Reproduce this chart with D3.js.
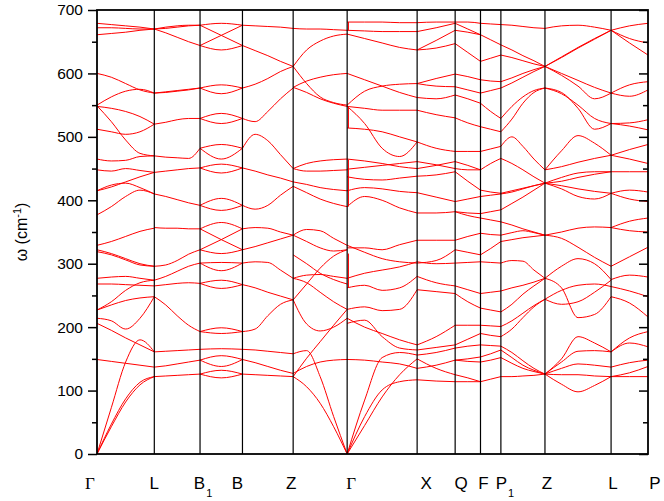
<!DOCTYPE html>
<html><head><meta charset="utf-8">
<script src="https://cdn.jsdelivr.net/npm/d3@7"></script>
<style>body{margin:0;background:#fff}</style>
</head><body><svg id="c" width="664" height="501"></svg>
<script>
// high-symmetry points along the path (normalised path length)
const kPos   = [0, 0.104, 0.187, 0.264, 0.356, 0.454, 0.581, 0.650, 0.696, 0.733, 0.813, 0.933, 1.0];
const kNames = ["Γ","L","B","B","Z","Γ","X","Q","F","P","Z","L","P"];
const kSubs  = ["","","1","","","","","","","1","","",""];
const yTicks = [0,100,200,300,400,500,600,700];
const yMinor = [50,150,250,350,450,550,650];

// phonon branches per segment: frequencies (cm^-1) at equally spaced points
const seg_G_L = [
 [679,677,675,673,670],[672,672,671,670,670],[661,663,665,668,670],
 [600,594,584,574,569],[550,563,572,575,569],[548,545,540,532,520],
 [512,508,504,508,520],[549,524,495,474,470],[465,462,463,469,470],
 [448,446,450,447,444],[415,421,429,437,444],[415,424,427,420,410],
 [377,390,406,416,410],[329,335,343,351,356],[322,316,308,300,296],
 [319,314,306,298,296],[277,279,280,277,274],[268,268,267,266,265],
 [227,235,242,246,248],[227,240,258,270,274],[214,210,197,214,248],
 [206,195,183,172,161],[149,146,143,140,137],[0,43,82,109,122],
 [0,47,87,113,122],[0,73,145,180,161]
];
const seg_L_B1 = [
 [670,673,675,676,676],[670,671,673,675,676],[670,664,657,650,644],
 [569,571,573,575,577],[569,570,572,574,577],[520,523,527,529,529],
 [470,468,467,466,482],[444,446,448,450,451],[410,406,401,396,392],
 [357,356,356,355,355],[296,298,305,315,322],[274,280,288,296,301],
 [265,267,269,270,269],[248,235,218,203,193],[161,162,163,164,165],
 [137,139,142,145,148],[122,123,124,125,126]
];
const seg_B1_B = [
 [676,679,676],[676,660,644],[644,660,676],[644,637,644],
 [577,582,577],[577,568,577],[529,537,529],[529,521,529],
 [482,488,482],[482,465,482],[451,457,451],[451,443,451],
 [392,403,392],[392,384,392],[355,365,355],[322,338,355],
 [355,338,322],[322,316,322],[301,302,301],[301,289,301],
 [269,274,267],[269,261,267],[193,199,193],[193,190,193],
 [165,166,165],[148,155,149],[148,138,149],[126,132,126],[126,120,126]
];
const seg_B_Z = [
 [676,675,674,673,671],[644,636,628,619,611],[577,583,592,603,611],
 [529,524,540,560,577],[482,504,494,472,450],[451,446,440,435,429],
 [392,386,392,408,422],[355,357,356,350,345],[322,327,333,339,345],
 [301,303,302,290,277],[267,262,255,249,243],[193,197,218,236,243],
 [165,164,162,160,158],[149,144,138,132,127],[126,125,124,123,122]
];
const seg_Z_G = [
 [671,670,670,669,668],[611,637,651,659,662],[611,584,563,554,550],
 [578,588,594,598,600],[578,570,560,553,548],[450,458,462,464,465],
 [450,446,446,447,448],[429,425,420,417,415],[422,412,402,395,390],
 [345,354,352,340,329],[345,335,325,320,322],[314,300,285,275,268],
 [277,282,283,280,277],[277,270,255,240,228],[243,205,194,200,214],
 [243,268,293,312,322],[158,163,122,59,0],[122,106,80,43,0],
 [122,151,177,203,228],[127,138,145,148,149]
];
const seg_G_X = [
 [681,681,681,680,680],[668,667,666,666,666],[662,655,648,641,637],
 [600,590,580,570,562],[550,572,580,583,584],[548,545,542,542,542],
 [514,512,508,500,492],[548,521,482,469,492],[465,462,458,453,450],
 [449,452,455,458,461],[437,433,432,435,438],[415,420,418,414,412],
 [390,406,400,388,380],[329,318,308,303,301],[325,325,322,330,337],
 [277,285,290,295,303],[262,266,258,262,280],[228,232,226,228,259],
 [214,200,190,180,172],[206,211,185,167,164],[149,148,145,142,135],
 [0,85,152,160,156],[0,59,101,114,117],[0,45,90,125,150]
];
const seg_X_Q = [
 [680,681,681],[666,672,679],[637,652,668],[637,640,647],
 [584,592,599],[584,580,579],[562,560,566],[542,535,530],
 [492,482,477],[450,455,461],[461,456,450],[438,440,445],
 [412,405,398],[380,380,382],[337,337,337],[301,305,322],
 [303,300,301],[280,270,265],[259,256,253],[172,185,203],
 [164,168,172],[156,160,167],[135,140,148],[117,115,114],[150,135,125]
];
const seg_Q_F = [
 [681,681,679],[679,670,661],[668,665,661],[647,633,619],
 [599,595,590],[579,574,569],[566,560,553],[530,522,516],
 [477,477,477],[461,455,448],[450,448,448],[445,430,416],
 [398,402,406],[382,380,379],[382,376,372],[337,343,348],
 [322,318,314],[301,302,303],[265,259,253],[253,240,230],
 [203,203,203],[172,181,190],[167,170,172],[148,150,153],
 [148,146,145],[114,114,114],[125,120,114]
];
const seg_F_P1 = [
 [679,678,677],[661,653,645],[619,624,629],[590,588,587],
 [569,573,577],[553,540,529],[516,512,508],[477,481,485],
 [448,458,466],[416,413,411],[406,408,410],[379,382,385],
 [372,369,366],[348,346,345],[314,324,335],[303,302,301],
 [253,255,257],[230,227,224],[203,202,201],[190,187,185],
 [172,171,170],[153,158,164],[145,148,152],[114,118,122]
];
const seg_P1_Z = [
 [677,676,674,672,671],[645,637,628,620,611],[629,625,620,615,611],
 [577,585,594,603,611],[587,593,600,606,611],[529,548,563,573,577],
 [508,528,553,570,577],[485,500,485,465,448],[466,458,448,437,427],
 [411,415,419,423,427],[410,413,418,423,427],[385,395,405,416,427],
 [366,361,355,350,345],[345,349,352,349,345],[335,338,341,343,345],
 [301,305,304,290,277],[257,262,266,271,277],[224,236,252,265,277],
 [201,210,222,234,244],[185,197,215,232,244],[170,160,147,135,126],
 [164,152,140,132,126],[152,143,135,130,126],[122,122,123,124,126]
];
const seg_Z_L = [
 [671,675,676,673,668],[611,625,640,654,668],[611,626,641,655,668],
 [611,600,589,578,569],[611,597,580,560,569],[577,570,545,512,521],
 [577,568,550,529,521],[448,478,502,490,471],[448,453,460,466,471],
 [427,423,418,414,411],[427,436,443,445,445],[427,418,406,402,411],
 [427,430,436,441,445],[345,350,356,358,357],[345,340,326,310,296],
 [277,296,308,300,275],[277,262,215,220,248],[244,258,266,268,264],
 [244,236,240,255,274],[126,150,185,175,161],[126,145,162,163,161],
 [126,135,142,140,137],[126,110,98,108,122],[126,125,125,123,122]
];
const seg_L_P = [
 [668,675,679],[668,655,648],[668,648,629],[569,582,587],
 [569,564,574],[521,522,527],[521,517,511],[471,480,488],
 [471,465,458],[445,445,445],[411,416,413],[411,402,398],
 [357,367,372],[357,352,350],[296,311,326],[275,282,279],
 [264,257,248],[248,238,216],[161,183,193],[161,175,169],
 [137,144,148],[122,122,122],[122,128,138]
];
const segments = [seg_G_L, seg_L_B1, seg_B1_B, seg_B_Z, seg_Z_G, seg_G_X,
                  seg_X_Q, seg_Q_F, seg_F_P1, seg_P1_Z, seg_Z_L, seg_L_P];
// LO–TO splitting jumps at the second Γ point: [left value, right value]
const gammaJumps = [[668,681],[548,514],[464,390],[316,262]];

// ---------- layout ----------
const L = 97, R = 648, T = 10, B = 454;
const labelDx = [-7, 0, 3, -5, -2, 4, 9, 6, 3, 4, 2, 2, 7];
const svg = d3.select("#c");
const x = d3.scaleLinear().domain([0, 1]).range([L, R]);
const y = d3.scaleLinear().domain([0, 700]).range([B, T]);

svg.append("defs").append("clipPath").attr("id","clip")
  .append("rect").attr("x",L).attr("y",T).attr("width",R-L).attr("height",B-T);

// bands
const line = d3.line().x(d => x(d[0])).y(d => y(d[1])).curve(d3.curveMonotoneX);
const bands = svg.append("g").attr("clip-path","url(#clip)");
segments.forEach((seg, i) => {
  const k0 = kPos[i], k1 = kPos[i+1];
  seg.forEach(vals => {
    const n = vals.length;
    const pts = vals.map((v, j) => [k0 + (k1 - k0) * j / (n - 1), v]);
    bands.append("path").attr("d", line(pts))
      .attr("fill","none").attr("stroke","#ff0000").attr("stroke-width",1);
  });
});
bands.selectAll("line.jump").data(gammaJumps).join("line").attr("class","jump")
  .attr("x1", x(kPos[5]) + 1.3).attr("x2", x(kPos[5]) + 1.3)
  .attr("y1", d => y(d[0])).attr("y2", d => y(d[1]))
  .attr("stroke","#ff0000").attr("stroke-width",1);

// symmetry lines
svg.append("g").selectAll("line").data(kPos.slice(1, -1)).join("line")
  .attr("x1", d => x(d)).attr("x2", d => x(d)).attr("y1", T).attr("y2", B)
  .attr("stroke","#000").attr("stroke-width",1.2);

// axes
const fontSans = "'Liberation Sans', Arial, Helvetica, sans-serif";
const gl = svg.append("g").attr("transform",`translate(${L},0)`)
  .call(d3.axisLeft(y).tickValues(yTicks).tickSize(9).tickPadding(5));
gl.selectAll("text").attr("font-size",15.5).attr("font-family",fontSans).attr("fill","#000");
svg.append("g").attr("transform",`translate(${L},0)`)
  .call(d3.axisLeft(y).tickValues(yMinor).tickSize(5).tickFormat(""));
svg.append("g").attr("transform",`translate(${R},0)`)
  .call(d3.axisLeft(y).tickValues(yTicks).tickSize(9).tickFormat(""));
svg.append("g").attr("transform",`translate(${R},0)`)
  .call(d3.axisLeft(y).tickValues(yMinor).tickSize(5).tickFormat(""));
svg.selectAll(".domain").remove();
svg.selectAll(".tick line").attr("stroke","#000").attr("stroke-width",1.5);

// frame
svg.append("rect").attr("x",L).attr("y",T).attr("width",R-L).attr("height",B-T)
  .attr("fill","none").attr("stroke","#000").attr("stroke-width",1.8);

// x labels
const xl = svg.append("g");
kPos.forEach((k, i) => {
  const t = xl.append("text").attr("x", x(k) + labelDx[i]).attr("y", 489)
    .attr("text-anchor","middle").attr("font-size",17)
    .attr("font-family", kNames[i] === "Γ" ? "'Liberation Serif', 'Times New Roman', serif" : fontSans)
    .attr("fill","#000");
  t.append("tspan").text(kNames[i]);
  if (kSubs[i]) t.append("tspan").attr("dx",1).attr("dy",8).attr("font-size",11).text(kSubs[i]);
});

// y label
const yl = svg.append("text").attr("transform","translate(27,232) rotate(-90)")
  .attr("text-anchor","middle").attr("font-size",16).attr("font-family",fontSans).attr("fill","#000");
yl.append("tspan").text("ω (cm");
yl.append("tspan").attr("dy",-6).attr("font-size",11).text("-1");
yl.append("tspan").attr("dy",6).text(")");
</script></body></html>
